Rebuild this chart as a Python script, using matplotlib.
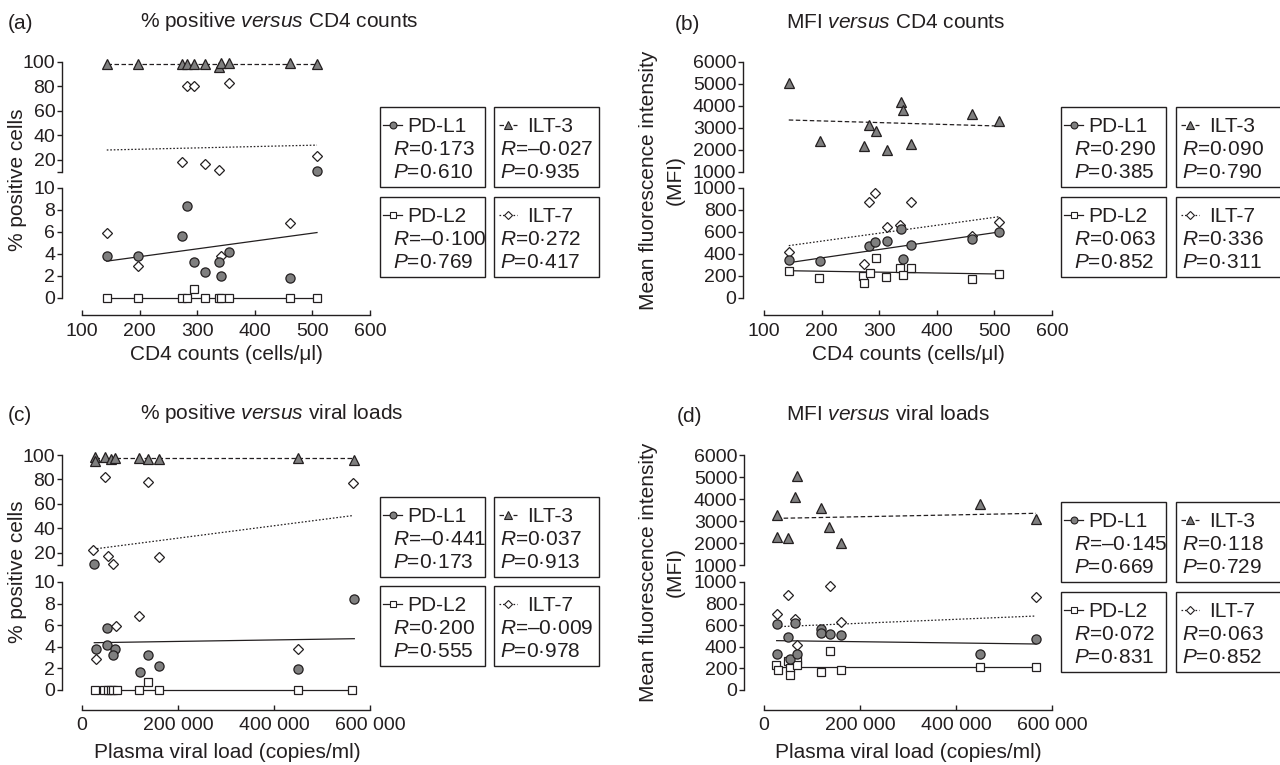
import numpy as np
import matplotlib.pyplot as plt
from matplotlib.patches import Rectangle

plt.rcParams['font.family'] = ['Liberation Sans', 'DejaVu Sans']
plt.rcParams['mathtext.fontset'] = 'custom'
plt.rcParams['mathtext.rm'] = 'Liberation Sans'
plt.rcParams['mathtext.it'] = 'Liberation Sans:italic'

W, H = 1280, 765
FS = 15
TFS = 14
INK = '#231f20'
GREY = '#7f7f7f'

# ---------------- data ----------------
# (a) % positive vs CD4 counts
cd4 = [143, 197, 273, 283, 295, 313, 337, 342, 356, 461, 508]
a_pdl1 = [3.8, 3.8, 5.6, 8.4, 3.3, 2.4, 3.3, 2.0, 4.2, 1.8, 11.0]
a_pdl2 = [0, 0, 0, 0, 0.8, 0, 0, 0, 0, 0, 0]
a_ilt3 = [98.4, 98.4, 98.6, 98.0, 98.0, 98.2, 96.2, 99.5, 99.5, 98.8, 98.0]
a_ilt7 = [5.9, 2.9, 18.3, 80, 80, 16.5, 12.0, 3.8, 83, 6.8, 22.8]
a_fit = {'PD-L1': [3.35, 5.95], 'PD-L2': [0, 0], 'ILT-3': [98.4, 98.4], 'ILT-7': [28.0, 32.0]}
a_r = ['0·173', '–0·027', '–0·100', '0·272']
a_p = ['0·610', '0·935', '0·769', '0·417']

# (b) MFI vs CD4 counts
b_pdl1_x = [143, 197, 283, 293, 313, 338, 342, 356, 461, 508]
b_pdl1 = [342, 339, 476, 512, 521, 627, 358, 482, 536, 600]
b_pdl2_x = [143, 196, 272, 274, 284, 294, 312, 336, 342, 356, 461, 508]
b_pdl2 = [245, 182, 203, 136, 224, 364, 194, 270, 206, 276, 170, 221]
b_ilt3 = [5030, 2410, 2200, 3140, 2860, 2015, 4180, 3820, 2290, 3650, 3330]
b_ilt7_x = [143, 273, 283, 293, 313, 336, 356, 461, 508]
b_ilt7 = [418, 306, 870, 958, 645, 661, 876, 567, 694]
b_fit = {'PD-L1': [321, 600], 'PD-L2': [248, 218], 'ILT-3': [3364, 3090], 'ILT-7': [476, 739]}
b_r = ['0·290', '0·090', '0·063', '0·336']
b_p = ['0·385', '0·790', '0·852', '0·311']

# (c) % positive vs viral load
c_pdl1_x = [25600, 29200, 52700, 51400, 68750, 63900, 120800, 138200, 160400, 450000, 567300]
c_pdl1 = [11.0, 3.8, 5.7, 4.2, 3.8, 3.2, 1.7, 3.2, 2.2, 1.9, 8.4]
c_pdl2_x = [27000, 46000, 54000, 60000, 64000, 72000, 119000, 137000, 160000, 450000, 562000]
c_pdl2 = [0, 0, 0, 0, 0, 0, 0, 0.7, 0, 0, 0]
c_ilt3_x = [27000, 27000, 47000, 60000, 68750, 118000, 137000, 160000, 449000, 566000]
c_ilt3 = [98.5, 95.5, 98.0, 96.5, 97.3, 97.5, 96.5, 96.5, 97.5, 96.0]
c_ilt7_x = [23600, 29200, 47900, 54900, 63900, 70800, 118750, 136800, 159800, 450000, 565300]
c_ilt7 = [21.9, 2.9, 81.8, 17.0, 10.6, 5.9, 6.85, 77.7, 16.2, 3.83, 77.4]
c_fit = {'PD-L1': [4.38, 4.75], 'PD-L2': [0, 0], 'ILT-3': [97.8, 97.8], 'ILT-7': [23.0, 50.5]}
c_r = ['–0·441', '0·037', '0·200', '–0·009']
c_p = ['0·173', '0·913', '0·555', '0·978']

# (d) MFI vs viral load
d_pdl1_x = [26400, 26400, 50000, 54000, 64600, 68000, 118000, 118000, 137500, 160400, 450000, 567000]
d_pdl1 = [608, 333, 488, 290, 623, 336, 565, 525, 519, 509, 336, 469]
d_pdl2_x = [25700, 28400, 49300, 54000, 54000, 68000, 69400, 118000, 137500, 160000, 449000, 567000]
d_pdl2 = [228, 185, 272, 200, 136, 278, 228, 170, 364, 182, 213, 213]
d_ilt3_x = [26400, 27800, 50700, 64600, 69400, 118100, 136100, 160400, 450000, 566700]
d_ilt3 = [3290, 2290, 2250, 4080, 5050, 3600, 2750, 1985, 3760, 3080]
d_ilt7_x = [27800, 50700, 64600, 68000, 137500, 160400, 566000]
d_ilt7 = [700, 880, 654, 420, 963, 633, 864]
d_fit = {'PD-L1': [457, 426], 'PD-L2': [216, 216], 'ILT-3': [3120, 3350], 'ILT-7': [586, 685]}
d_r = ['–0·145', '0·118', '0·072', '0·063']
d_p = ['0·669', '0·729', '0·831', '0·852']

styles = {
    'PD-L1': dict(marker='o', ms=6.6, mfc=GREY, dashes=(None, None)),
    'PD-L2': dict(marker='s', ms=6.1, mfc='white', dashes=(None, None)),
    'ILT-3': dict(marker='^', ms=7.2, mfc=GREY, dashes=(3.6, 2.0)),
    'ILT-7': dict(marker='D', ms=5.1, mfc='white', dashes=(1.3, 1.5)),
}
draw_order = ['PD-L2', 'ILT-7', 'ILT-3', 'PD-L1']

fig = plt.figure(figsize=(W / 100, H / 100), dpi=100)
ov = fig.add_axes([0, 0, 1, 1])
ov.set_xlim(0, W)
ov.set_ylim(H, 0)
ov.axis('off')


def add_ax(x0, x1, y0, y1):
    ax = fig.add_axes([x0 / W, 1 - y1 / H, (x1 - x0) / W, (y1 - y0) / H])
    ax.set_facecolor('none')
    for s in ['top', 'right']:
        ax.spines[s].set_visible(False)
    ax.spines['left'].set_color(INK)
    ax.spines['left'].set_linewidth(1.0)
    ax.tick_params(axis='y', direction='out', length=3.6, width=1.0, color=INK,
                   labelsize=TFS, labelcolor=INK, pad=1.2)
    return ax


def draw_panel(p):
    x0, x1 = p['xpx']
    top = add_ax(x0, x1, *p['top'])
    bot = add_ax(x0, x1, *p['bot'])
    lo, brk, hi = p['ylim']
    top.set_ylim(brk, hi)
    bot.set_ylim(lo, brk)
    for ax in (top, bot):
        ax.set_xlim(*p['xlim'])
        ax.spines['left'].set_position(('outward', p['yoff'] * 0.72))
    top.spines['bottom'].set_visible(False)
    top.set_xticks([])
    top.set_yticks(p['tticks'])
    top.set_yticklabels(p['tlabels'])
    bot.set_yticks(p['bticks'])
    bot.set_yticklabels([str(v) for v in p['bticks']])
    bot.spines['bottom'].set_position(('outward', p['xoff'] * 0.72))
    bot.spines['bottom'].set_color(INK)
    bot.spines['bottom'].set_linewidth(1.0)
    bot.set_xticks(p['xticks'])
    bot.set_xticklabels(p['xlabels'])
    bot.tick_params(axis='x', direction='in', length=3.6, width=1.0, color=INK,
                    labelsize=TFS, labelcolor=INK, pad=p['xpad'])

    for z, name in enumerate(draw_order):
        x, y = p['series'][name]
        x = np.asarray(x, float)
        y = np.asarray(y, float)
        st = styles[name]
        fit = p['fits'][name]
        fx = [x.min(), x.max()]
        for ax, keep, rng in ((top, y >= brk, (brk, hi)), (bot, y <= brk, (lo, brk))):
            if rng[0] <= min(fit) and max(fit) <= rng[1]:
                ln, = ax.plot(fx, fit, color=INK, lw=0.9, zorder=2, clip_on=False)
                if st['dashes'][0] is not None:
                    ln.set_dashes(st['dashes'])
            ax.plot(x[keep], y[keep], ls='none', marker=st['marker'], ms=st['ms'],
                    mfc=st['mfc'], mec=INK, mew=0.9, zorder=3 + z, clip_on=False)


def legend(lx, rx, ty, by, r, p):
    names = ['PD-L1', 'ILT-3', 'PD-L2', 'ILT-7']
    spots = [(lx, ty, False), (rx, ty, True), (lx, by, False), (rx, by, True)]
    for name, (x, y, right), rv, pv in zip(names, spots, r, p):
        ov.add_patch(Rectangle((x, y), 105, 80, fill=False, ec=INK, lw=1.0))
        s0, s1, tx, vx = (5, 23, 33, 6) if right else (3, 22, 27, 13)
        st = styles[name]
        ln, = ov.plot([x + s0, x + s1], [y + 17.5] * 2, color=INK, lw=0.9)
        if st['dashes'][0] is not None:
            ln.set_dashes(st['dashes'])
        ov.plot([x + (s0 + s1) / 2], [y + 17.5], ls='none', marker=st['marker'],
                ms=st['ms'] * 0.75, mfc=st['mfc'], mec=INK, mew=0.8)
        ov.text(x + tx, y + 25, name, fontsize=FS, color=INK, va='baseline')
        ov.text(x + vx, y + 48, r'$\mathit{R}$=' + rv, fontsize=FS, color=INK, va='baseline')
        ov.text(x + vx, y + 71, r'$\mathit{P}$=' + pv, fontsize=FS, color=INK, va='baseline')


cd4_ticks = [100, 200, 300, 400, 500, 600]
vl_ticks = [0, 200000, 400000, 600000]
vl_labels = ['0', '200 000', '400 000', '600 000']
pct_top = [10, 20, 40, 60, 80, 100]
pct_top_lab = ['', '20', '40', '60', '80', '100']
pct_bot = [0, 2, 4, 6, 8, 10]
mfi_top = [1000, 2000, 3000, 4000, 5000, 6000]
mfi_bot = [0, 200, 400, 600, 800, 1000]

panels = [
    dict(xpx=(82, 370), top=(62, 172), bot=(188, 298), xoff=17, yoff=20, xpad=5.5,
         xlim=(100, 600), xticks=cd4_ticks, xlabels=[str(v) for v in cd4_ticks],
         ylim=(0, 10, 100), tticks=pct_top, tlabels=pct_top_lab, bticks=pct_bot,
         series={'PD-L1': (cd4, a_pdl1), 'PD-L2': (cd4, a_pdl2),
                 'ILT-3': (cd4, a_ilt3), 'ILT-7': (cd4, a_ilt7)}, fits=a_fit),
    dict(xpx=(764, 1052), top=(62, 172), bot=(188, 298), xoff=17, yoff=21, xpad=5.5,
         xlim=(100, 600), xticks=cd4_ticks, xlabels=[str(v) for v in cd4_ticks],
         ylim=(0, 1000, 6000), tticks=mfi_top, tlabels=[str(v) for v in mfi_top], bticks=mfi_bot,
         series={'PD-L1': (b_pdl1_x, b_pdl1), 'PD-L2': (b_pdl2_x, b_pdl2),
                 'ILT-3': (cd4, b_ilt3), 'ILT-7': (b_ilt7_x, b_ilt7)}, fits=b_fit),
    dict(xpx=(82, 370), top=(455, 565), bot=(582, 690), xoff=20, yoff=20, xpad=5,
         xlim=(0, 600000), xticks=vl_ticks, xlabels=vl_labels,
         ylim=(0, 10, 100), tticks=pct_top, tlabels=pct_top_lab, bticks=pct_bot,
         series={'PD-L1': (c_pdl1_x, c_pdl1), 'PD-L2': (c_pdl2_x, c_pdl2),
                 'ILT-3': (c_ilt3_x, c_ilt3), 'ILT-7': (c_ilt7_x, c_ilt7)}, fits=c_fit),
    dict(xpx=(764, 1052), top=(455, 565), bot=(582, 690), xoff=20, yoff=20, xpad=5,
         xlim=(0, 600000), xticks=vl_ticks, xlabels=vl_labels,
         ylim=(0, 1000, 6000), tticks=mfi_top, tlabels=[str(v) for v in mfi_top], bticks=mfi_bot,
         series={'PD-L1': (d_pdl1_x, d_pdl1), 'PD-L2': (d_pdl2_x, d_pdl2),
                 'ILT-3': (d_ilt3_x, d_ilt3), 'ILT-7': (d_ilt7_x, d_ilt7)}, fits=d_fit),
]
for p in panels:
    draw_panel(p)

legend(380, 494, 107, 197, a_r, a_p)
legend(1061, 1176, 107, 197, b_r, b_p)
legend(380, 494, 497, 586, c_r, c_p)
legend(1061, 1176, 502, 592, d_r, d_p)

# titles, panel letters and axis labels
txt = dict(fontsize=FS, color=INK)
ov.text(8, 29, '(a)', va='baseline', **txt)
ov.text(675, 30, '(b)', va='baseline', **txt)
ov.text(8, 421, '(c)', va='baseline', **txt)
ov.text(677, 422, '(d)', va='baseline', **txt)
ov.text(140, 27, r'% positive $\mathit{versus}$ CD4 counts', va='baseline', **txt)
ov.text(786, 28, r'MFI $\mathit{versus}$ CD4 counts', va='baseline', **txt)
ov.text(140, 419, r'% positive $\mathit{versus}$ viral loads', va='baseline', **txt)
ov.text(786, 420, r'MFI $\mathit{versus}$ viral loads', va='baseline', **txt)

for yc in (180, 572):
    ov.text(18, yc, '% positive cells', rotation=90, ha='center', va='center', **txt)
    ov.text(649, yc, 'Mean fluorescence intensity', rotation=90, ha='center', va='center', **txt)
    ov.text(675, yc, '(MFI)', rotation=90, ha='center', va='center', **txt)

ov.text(226, 360, 'CD4 counts (cells/μl)', ha='center', va='baseline', **txt)
ov.text(908, 360, 'CD4 counts (cells/μl)', ha='center', va='baseline', **txt)
ov.text(227, 758, 'Plasma viral load (copies/ml)', ha='center', va='baseline', **txt)
ov.text(908, 758, 'Plasma viral load (copies/ml)', ha='center', va='baseline', **txt)

fig.savefig('out.png', dpi=100)
